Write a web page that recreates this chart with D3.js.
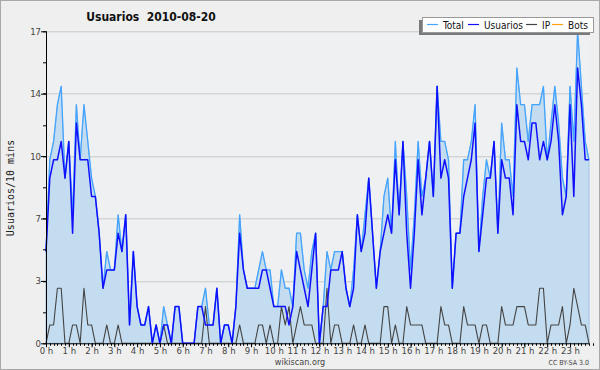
<!DOCTYPE html>
<html>
<head>
<meta charset="utf-8">
<script src="https://cdn.jsdelivr.net/npm/d3@7"></script>
<style>
  body { margin: 0; background: #fff; }
  svg { display: block; font-family: "DejaVu Sans Condensed", "DejaVu Sans", sans-serif; font-stretch: condensed; }
</style>
</head>
<body>
<div id="chart"></div>
<script>
// values per 10 minutes, 144 slots (00:00 .. 23:50)
var total = [5,10,11,13,14,9,11,7,13,10,13,11,9,8,6,3,5,4,4,7,5,7,1,5,
  2,1,1,2,0,1,0,2,1,0,2,2,0,0,0,0,2,2,3,1,1,3,0,1,
  1,0,2,7,4,3,3,3,4,5,4,4,2,2,4,3,3,2,6,6,4,3,5,6,
  0,2,5,4,5,5,5,3,2,4,7,5,7,9,6,3,5,8,9,6,11,7,11,8,
  4,7,11,8,9,11,8,14,11,11,10,3,6,6,10,10,11,13,5,8,10,9,11,6,
  12,10,10,8,15,13,13,11,13,13,13,14,10,12,14,12,9,8,14,11,17,14,11,10];
var usuarios = [5,9,10,10,11,9,11,6,12,10,10,10,8,8,6,3,4,4,4,6,5,7,1,5,
  2,1,1,2,0,1,0,1,1,0,2,2,0,0,0,0,2,2,1,1,1,3,0,1,
  1,0,2,6,4,3,3,3,3,4,4,3,2,2,2,2,1,2,5,4,3,2,4,6,
  0,2,2,4,4,4,5,3,2,3,7,5,6,9,6,3,5,6,7,6,10,7,11,6,
  3,6,10,7,9,11,8,14,9,10,9,3,6,6,8,9,10,12,5,7,9,9,11,6,
  10,9,9,7,13,11,11,10,12,12,10,11,10,11,13,11,7,8,13,8,15,13,10,10];
var ip = [0,1,1,3,3,0,0,1,1,0,3,1,1,0,0,0,1,0,0,1,0,0,0,0,
  0,0,0,0,0,0,0,1,0,0,0,0,0,0,0,0,0,0,2,0,0,0,0,0,
  0,0,0,1,0,0,0,0,1,1,0,1,0,0,2,1,2,0,1,2,1,1,1,0,
  0,0,3,0,1,1,0,0,0,1,0,0,1,0,0,0,0,2,2,0,1,0,0,2,
  1,1,1,1,0,0,0,0,2,1,1,0,0,0,2,1,1,1,0,1,1,0,0,0,
  2,1,1,1,2,2,2,1,1,1,3,3,0,1,1,1,2,0,1,3,2,1,1,0];
var bots = total.map(function () { return 0; });
var hours = d3.range(24);
var yTickLabels = ["0","3","7","10","14","17"];

var width = 600, height = 370;
var margin = {top: 31.3, right: 11, bottom: 26.7, left: 46};
var plotW = width - margin.left - margin.right;
var plotH = height - margin.top - margin.bottom;
var yMax = 17;

var svg = d3.select("#chart").append("svg")
    .attr("width", width)
    .attr("height", height);

// page background + border
svg.append("rect")
    .attr("x", 0.5).attr("y", 0.5)
    .attr("width", width - 1).attr("height", height - 1)
    .attr("fill", "#efefef")
    .attr("stroke", "#a8a8a8");

var x = d3.scaleLinear().domain([0, total.length - 1]).range([0, plotW]);
var y = d3.scaleLinear().domain([0, yMax]).range([plotH, 0]);

var g = svg.append("g")
    .attr("transform", "translate(" + margin.left + "," + margin.top + ")");

g.append("rect")
    .attr("width", plotW).attr("height", plotH)
    .attr("fill", "#eef0f2");

// grid lines at fifths of the max
var gridVals = d3.range(0, 6).map(function (k) { return yMax * k / 5; });
g.selectAll(".grid")
    .data(gridVals.slice(1))
    .enter().append("line")
    .attr("x1", 0).attr("x2", plotW)
    .attr("y1", function (d) { return Math.round(y(d)) + 0.5; })
    .attr("y2", function (d) { return Math.round(y(d)) + 0.5; })
    .attr("stroke", "#c8c8c8");

// area under total
var area = d3.area()
    .x(function (d, i) { return x(i); })
    .y0(y(0))
    .y1(function (d) { return y(d); });

g.append("path")
    .datum(total)
    .attr("d", area)
    .attr("fill", "#c4dcf0")
    .attr("stroke", "#9cc4e8")
    .attr("stroke-width", 1);

var line = d3.line()
    .x(function (d, i) { return x(i); })
    .y(function (d) { return y(d); });

var series = [
  {name: "Total", data: total, color: "#44a4ff", w: 1.3},
  {name: "Usuarios", data: usuarios, color: "#1010ff", w: 1.5},
  {name: "IP", data: ip, color: "#444444", w: 1.1},
  {name: "Bots", data: bots, color: "#ffa010", w: 1.1}
];

// draw order: IP under, then total, then usuarios
[series[2], series[0], series[1]].forEach(function (s) {
  g.append("path")
      .datum(s.data)
      .attr("d", line)
      .attr("fill", "none")
      .attr("stroke", s.color)
      .attr("stroke-width", s.w)
      .attr("stroke-linejoin", "round");
});

// y axis
var yAxis = d3.axisLeft(y)
    .tickValues(gridVals)
    .tickSize(5)
    .tickFormat(function (d, i) { return yTickLabels[i]; });

var ya = g.append("g").call(yAxis);
ya.attr("font-family", null).attr("font-size", null);
ya.select(".domain").attr("stroke", "#000").attr("d", "M0.5," + plotH + "V0");
ya.selectAll(".tick line").attr("stroke", "#000");
ya.selectAll(".tick text")
    .attr("font-size", "9.5px")
    .attr("fill", "#444")
    .attr("x", -5);

// minor y ticks between grid lines
g.selectAll(".ymin")
    .data(d3.range(0, 11).map(function (k) { return yMax * k / 10; }))
    .enter().append("line")
    .attr("x1", -3).attr("x2", 0)
    .attr("y1", function (d) { return Math.round(y(d)) + 0.5; })
    .attr("y2", function (d) { return Math.round(y(d)) + 0.5; })
    .attr("stroke", "#000");

// x axis: hour labels, minor tick per 10 minutes
var xAxis = d3.axisBottom(x)
    .tickValues(hours.map(function (h) { return h * 6; }))
    .tickSize(4)
    .tickFormat(function (d) { return (d / 6) + " h"; });

var xa = g.append("g")
    .attr("transform", "translate(0," + plotH + ")")
    .call(xAxis);
xa.attr("font-family", null).attr("font-size", null);
xa.select(".domain").attr("stroke", "#000").attr("d", "M0,0.5H" + plotW);
xa.selectAll(".tick line").attr("stroke", "#000");
xa.selectAll(".tick text")
    .attr("font-size", "9.5px")
    .attr("fill", "#444")
    .attr("dy", null)
    .attr("y", 10.5);

g.selectAll(".xmin")
    .data(d3.range(0, total.length + 1))
    .enter().append("line")
    .attr("x1", function (d) { return Math.round(x(d)) + 0.5; })
    .attr("x2", function (d) { return Math.round(x(d)) + 0.5; })
    .attr("y1", plotH).attr("y2", plotH + 2.5)
    .attr("stroke", "#000");

// title
svg.append("text")
    .attr("x", 151).attr("y", 21)
    .attr("text-anchor", "middle")
    .attr("font-size", "12px")
    .attr("font-weight", "bold")
    .attr("fill", "#111")
    .attr("xml:space", "preserve")
    .text("Usuarios  2010-08-20");

// y label
svg.append("text")
    .attr("transform", "translate(14,188) rotate(-90)")
    .attr("text-anchor", "middle")
    .attr("font-family", "DejaVu Sans Mono, monospace")
    .attr("font-stretch", "normal")
    .attr("font-size", "10px")
    .attr("fill", "#222")
    .text("Usuarios/10 mins");

// footer
svg.append("text")
    .attr("x", 300).attr("y", 365)
    .attr("text-anchor", "middle")
    .attr("font-size", "9px")
    .attr("fill", "#444")
    .text("wikiscan.org");

svg.append("text")
    .attr("x", 589).attr("y", 365)
    .attr("text-anchor", "end")
    .attr("font-size", "7px")
    .attr("fill", "#444")
    .text("CC BY-SA 3.0");

// legend
var lg = svg.append("g");
lg.append("rect")
    .attr("x", 419).attr("y", 20)
    .attr("width", 171).attr("height", 15)
    .attr("fill", "#7a7a7a");
lg.append("rect")
    .attr("x", 422.5).attr("y", 17.5)
    .attr("width", 171).attr("height", 15)
    .attr("fill", "#fff")
    .attr("stroke", "#999");

var legX = [427, 468, 526, 552];
series.forEach(function (s, i) {
  lg.append("line")
      .attr("x1", legX[i]).attr("x2", legX[i] + 11)
      .attr("y1", 24.5).attr("y2", 24.5)
      .attr("stroke", s.color)
      .attr("stroke-width", 1.2);
  lg.append("text")
      .attr("x", legX[i] + 16).attr("y", 28.5)
      .attr("font-size", "10px")
      .attr("fill", "#111")
      .text(s.name);
});
</script>
</body>
</html>
